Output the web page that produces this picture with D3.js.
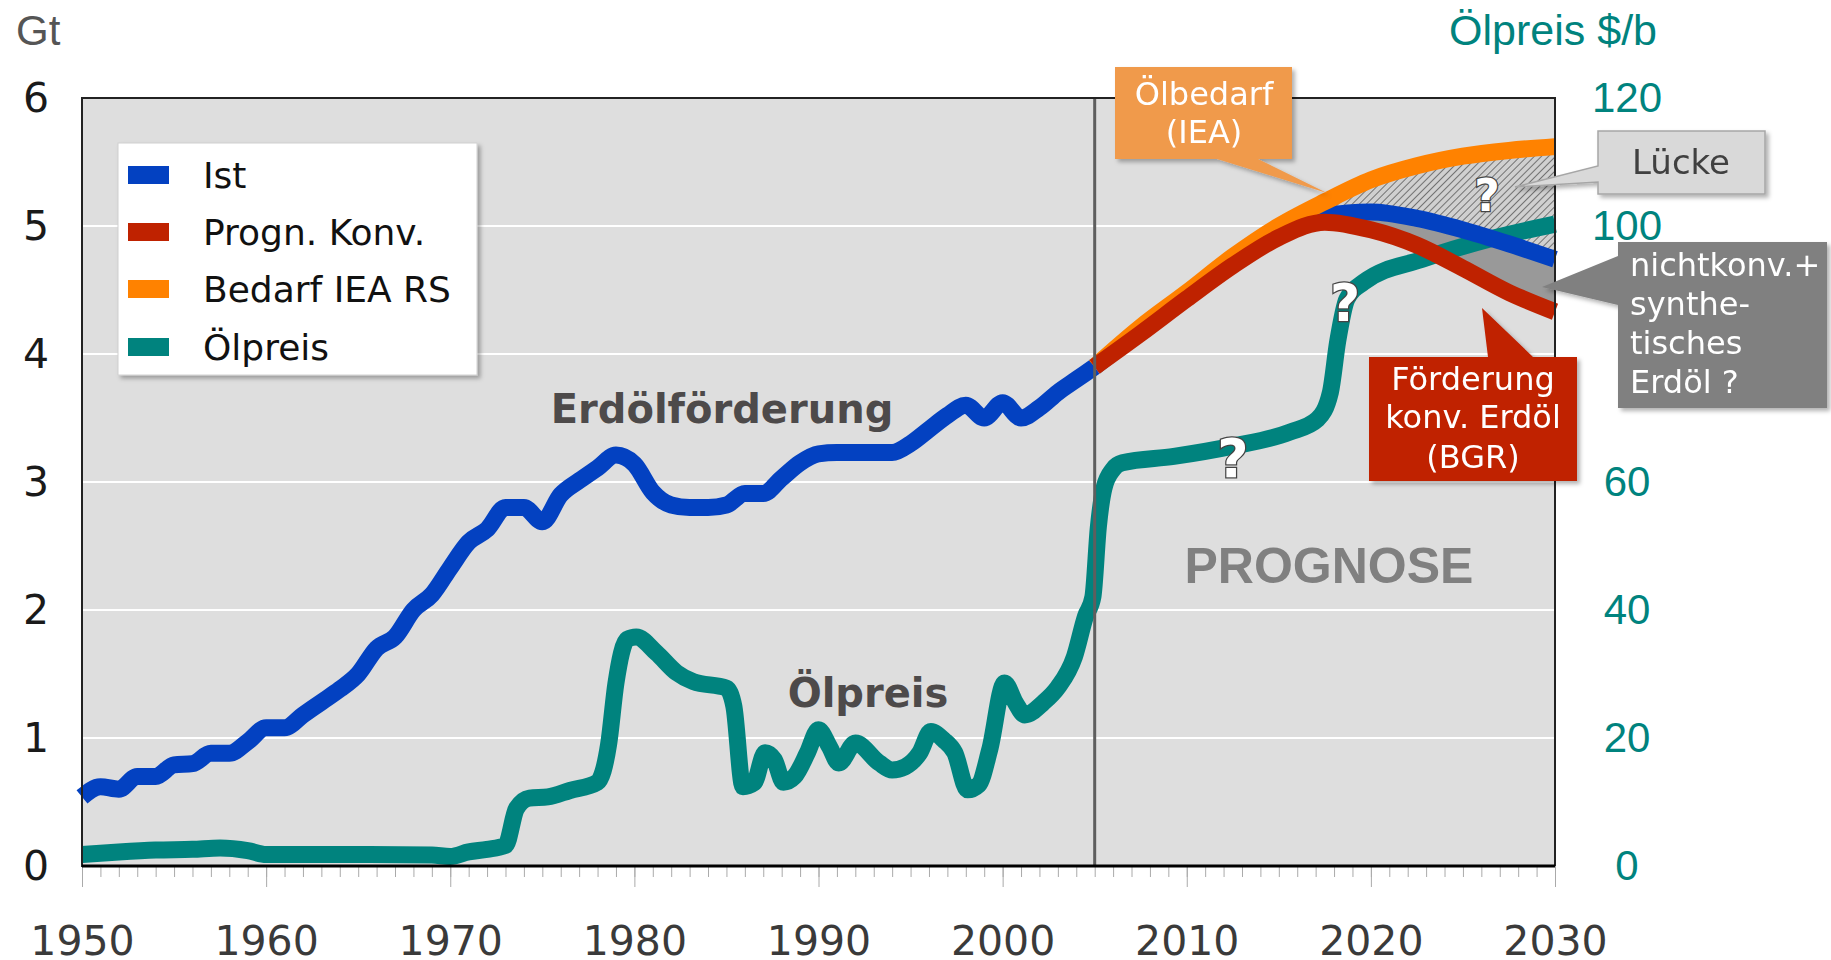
<!DOCTYPE html>
<html>
<head>
<meta charset="utf-8">
<script src="https://d3js.org/d3.v7.min.js"></script>
<style>
body{margin:0;background:#fff;}
svg{display:block;}
</style>
</head>
<body>
<div id="canvas"></div>
<script>
var width = 1831;
var height = 960;

// Erdölförderung Ist (Gt/Jahr)
var istYears = [1950,1951,1952,1953,1954,1955,1956,1957,1958,1959,1960,1961,1962,1963,1964,1965,1966,1967,1968,1969,
	1970,1971,1972,1973,1974,1975,1976,1977,1978,1979,1980,1981,1982,1983,1984,1985,1986,1987,1988,1989,
	1990,1991,1992,1993,1994,1995,1996,1997,1998,1999,2000,2001,2002,2003,2004,2005];
var istValues = [0.54,0.62,0.60,0.70,0.70,0.79,0.80,0.88,0.88,0.97,1.08,1.08,1.18,1.28,1.38,1.50,1.70,1.79,2.00,2.12,
	2.33,2.53,2.63,2.80,2.80,2.69,2.90,3.01,3.11,3.21,3.14,2.92,2.82,2.80,2.80,2.82,2.91,2.91,3.03,3.15,
	3.22,3.23,3.23,3.23,3.23,3.30,3.41,3.52,3.60,3.50,3.62,3.50,3.58,3.70,3.80,3.90];

// Prognosen ab 2005 (Gt/Jahr)
var projYears = [2005,2007.5,2010,2012.5,2015,2017.5,2020,2022.5,2025,2027.5,2030];
var bedarfValues = [3.90,4.21,4.48,4.76,5.00,5.19,5.36,5.47,5.545,5.59,5.62];
var istProgValues = [3.90,4.18,4.45,4.72,4.94,5.08,5.11,5.06,4.97,4.86,4.74];
var konvValues = [3.90,4.16,4.43,4.69,4.91,5.03,4.97,4.85,4.67,4.48,4.33];

// Ölpreis ($/b)
var priceYears = [1950,1952,1954,1956,1957.5,1959,1960,1965,1969,1970,1971,1972,1973,1973.6,1974.3,1975.3,1976.5,1978,1978.6,1979,
	1979.6,1980.1,1981.2,1982.3,1983.2,1985,1985.4,1985.9,1986.5,1987.1,1987.6,1988.1,1988.7,1989.4,1990,1990.6,1991.1,1992,1993.3,1994,
	1994.7,1995.5,1996.1,1996.8,1997.4,1998.1,1998.7,1999.3,2000.1,2000.7,2001.2,2002.2,2003,2003.9,2004.5,2004.9,2005.2,2005.5,2006,2006.5,
	2009.3,2012.5,2015.6,2017.1,2017.8,2018.2,2018.7,2019.6,2022.8,2026.5,2030];
var priceValues = [1.8,2.2,2.5,2.6,2.8,2.4,1.8,1.8,1.7,1.5,2.2,2.6,3.2,9.0,10.6,10.8,11.8,13.1,19,28.6,
	35.4,35.8,33.3,30.2,28.8,27.8,25,12.4,13,17.7,16.6,13.1,14,17.7,21.3,18.6,16.1,19.2,16.1,15,
	15.5,17.7,21,19.7,17.7,11.9,12.7,18.2,28.6,25.5,23.6,25.5,27.9,32.7,39,42,53,59,62,63,
	64,65.6,67.8,69.8,74,82,88.6,91.2,94.8,98,100.3];

// Achsen (die 80 ist im Original von den Kästen verdeckt)
var xTicks = [1950,1960,1970,1980,1990,2000,2010,2020,2030];
var leftTicks = [0,1,2,3,4,5,6];
var rightTicks = [0,20,40,60,100,120];

var legendLabels = ["Ist","Progn. Konv.","Bedarf IEA RS","Ölpreis"];
var legendColors = ["#0341c1","#bf2200","#ff8200","#00837e"];

var col_blue = "#0341c1";
var col_red = "#bf2200";
var col_orange = "#ff8200";
var col_teal = "#00837e";

var draw = function(){
	var pL = 82, pR = 1555, pT = 98, pB = 866;

	var x = d3.scaleLinear().domain([1950,2030]).range([pL,pR]);
	var yL = d3.scaleLinear().domain([0,6]).range([pB,pT]);
	var yR = d3.scaleLinear().domain([0,120]).range([pB,pT]);

	var svg = d3.select("#canvas").append("svg")
		.attr("width",width)
		.attr("height",height)
		.style("font-family","'DejaVu Sans', Verdana, sans-serif");

	var defs = svg.append("defs");
	var sh = defs.append("filter").attr("id","shadow")
		.attr("x","-10%").attr("y","-10%").attr("width","130%").attr("height","130%");
	sh.append("feDropShadow").attr("dx",3).attr("dy",3).attr("stdDeviation",2)
		.attr("flood-color","#000").attr("flood-opacity",0.3);

	var pat = defs.append("pattern").attr("id","hatch")
		.attr("patternUnits","userSpaceOnUse")
		.attr("width",5).attr("height",5)
		.attr("patternTransform","rotate(45)");
	pat.append("rect").attr("width",5).attr("height",5).attr("fill","#d0d0d0");
	pat.append("line").attr("x1",0).attr("y1",0).attr("x2",0).attr("y2",5)
		.attr("stroke","#5a5a5a").attr("stroke-width",1.6);

	defs.append("clipPath").attr("id","clipLuecke").append("rect")
		.attr("x",x(2015)).attr("y",pT).attr("width",pR-x(2015)).attr("height",pB-pT);
	defs.append("clipPath").attr("id","clipGrau").append("rect")
		.attr("x",x(2018)).attr("y",pT).attr("width",pR-x(2018)).attr("height",pB-pT);

	// Plotfläche
	svg.append("rect")
		.attr("x",pL).attr("y",pT)
		.attr("width",pR-pL).attr("height",pB-pT)
		.attr("fill","#dedede");

	// Gitterlinien
	svg.append("g").selectAll("line")
		.data([1,2,3,4,5])
		.enter().append("line")
		.attr("x1",pL).attr("x2",pR)
		.attr("y1",function(d){return yL(d);})
		.attr("y2",function(d){return yL(d);})
		.attr("stroke","#fff").attr("stroke-width",2);

	// Flächen Lücke / nichtkonventionell
	var proj = projYears.map(function(y,i){
		return {year:y, bedarf:bedarfValues[i], ist:istProgValues[i], konv:konvValues[i]};
	});

	var areaLuecke = d3.area()
		.curve(d3.curveMonotoneX)
		.x(function(d){return x(d.year);})
		.y0(function(d){return yL(d.ist);})
		.y1(function(d){return yL(d.bedarf);});
	svg.append("path").datum(proj)
		.attr("d",areaLuecke)
		.attr("fill","url(#hatch)")
		.attr("clip-path","url(#clipLuecke)");

	var areaGrau = d3.area()
		.curve(d3.curveMonotoneX)
		.x(function(d){return x(d.year);})
		.y0(function(d){return yL(d.konv);})
		.y1(function(d){return yL(d.ist);});
	svg.append("path").datum(proj)
		.attr("d",areaGrau)
		.attr("fill","#999")
		.attr("clip-path","url(#clipGrau)");

	// Beschriftungen im Diagramm
	svg.append("text")
		.attr("x",1329).attr("y",583)
		.attr("text-anchor","middle")
		.style("font-family","'Liberation Sans', Arial, sans-serif")
		.style("font-weight","bold")
		.style("font-size","50px")
		.attr("fill","#808080")
		.text("PROGNOSE");

	svg.append("text")
		.attr("x",722).attr("y",423)
		.attr("text-anchor","middle")
		.style("font-weight","bold")
		.style("font-size","40px")
		.attr("fill","#4d4a4a")
		.text("Erdölförderung");

	svg.append("text")
		.attr("x",868).attr("y",707)
		.attr("text-anchor","middle")
		.style("font-weight","bold")
		.style("font-size","40px")
		.attr("fill","#4d4a4a")
		.text("Ölpreis");

	// Linien
	var lineL = function(key){
		return d3.line()
			.curve(d3.curveMonotoneX)
			.x(function(d){return x(d.year);})
			.y(function(d){return yL(d[key]);});
	};

	var priceData = priceYears.map(function(y,i){return {year:y, p:priceValues[i]};});
	var priceLine = d3.line()
		.curve(d3.curveMonotoneX)
		.x(function(d){return x(d.year);})
		.y(function(d){return yR(d.p);});

	var lw = 17;
	svg.append("path").datum(priceData)
		.attr("d",priceLine)
		.attr("fill","none").attr("stroke",col_teal)
		.attr("stroke-width",lw).attr("stroke-linejoin","round");

	var istData = istYears.map(function(y,i){return {year:y, v:istValues[i]};});
	svg.append("path").datum(istData)
		.attr("d",lineL("v"))
		.attr("fill","none").attr("stroke",col_blue)
		.attr("stroke-width",lw).attr("stroke-linejoin","round");

	svg.append("path").datum(proj)
		.attr("d",lineL("ist"))
		.attr("fill","none").attr("stroke",col_blue)
		.attr("stroke-width",lw);
	svg.append("path").datum(proj)
		.attr("d",lineL("bedarf"))
		.attr("fill","none").attr("stroke",col_orange)
		.attr("stroke-width",lw);
	svg.append("path").datum(proj)
		.attr("d",lineL("konv"))
		.attr("fill","none").attr("stroke",col_red)
		.attr("stroke-width",lw);

	// Trennlinie 2005
	svg.append("line")
		.attr("x1",x(2005)).attr("x2",x(2005))
		.attr("y1",pT).attr("y2",pB)
		.attr("stroke","#5e5e5e").attr("stroke-width",3);

	// Rahmen
	svg.append("rect")
		.attr("x",pL).attr("y",pT)
		.attr("width",pR-pL).attr("height",pB-pT)
		.attr("fill","none").attr("stroke","#222").attr("stroke-width",2);

	// x-Achse
	var xMinor = d3.axisBottom(x).tickValues(d3.range(1950,2031)).tickSize(11).tickFormat("");
	var gxm = svg.append("g").attr("transform","translate(0,"+pB+")").call(xMinor);
	gxm.selectAll("line").attr("stroke","#aaa");
	gxm.select(".domain").remove();

	var xMajor = d3.axisBottom(x).tickValues(xTicks).tickSize(21).tickPadding(39).tickFormat(d3.format("d"));
	var gx = svg.append("g").attr("transform","translate(0,"+pB+")").call(xMajor);
	gx.selectAll("line").attr("stroke","#aaa");
	gx.select(".domain").remove();
	gx.selectAll("text")
		.style("font-family","'DejaVu Sans', Verdana, sans-serif")
		.style("font-size","41px")
		.attr("fill","#3a3a3a");

	svg.append("line")
		.attr("x1",pL).attr("x2",pR)
		.attr("y1",pB).attr("y2",pB)
		.attr("stroke","#000").attr("stroke-width",3);

	// y-Achse links
	var yAxisL = d3.axisLeft(yL).tickValues(leftTicks).tickSize(0).tickPadding(33).tickFormat(d3.format("d"));
	var gyl = svg.append("g").attr("transform","translate("+pL+",0)").call(yAxisL);
	gyl.select(".domain").remove();
	gyl.selectAll("text")
		.style("font-family","'DejaVu Sans', Verdana, sans-serif")
		.style("font-size","41px")
		.attr("fill","#1a1a1a");

	// y-Achse rechts
	var yAxisR = d3.axisRight(yR).tickValues(rightTicks).tickSize(0).tickFormat(d3.format("d"));
	var gyr = svg.append("g").attr("transform","translate("+pR+",0)").call(yAxisR);
	gyr.select(".domain").remove();
	gyr.selectAll("text")
		.attr("x",72)
		.attr("text-anchor","middle")
		.style("font-family","'Liberation Sans', Arial, sans-serif")
		.style("font-size","42px")
		.attr("fill",col_teal);

	svg.append("text")
		.attr("x",16).attr("y",45)
		.style("font-family","'Liberation Sans', Arial, sans-serif")
		.style("font-size","42px")
		.attr("fill","#555")
		.text("Gt");

	svg.append("text")
		.attr("x",1657).attr("y",45)
		.attr("text-anchor","end")
		.style("font-family","'Liberation Sans', Arial, sans-serif")
		.style("font-size","43px")
		.attr("fill",col_teal)
		.text("Ölpreis $/b");

	// Legende
	var lg = svg.append("g");
	lg.append("rect")
		.attr("x",118).attr("y",143).attr("width",359).attr("height",232)
		.attr("fill","#fff").attr("stroke","#d0d0d0").attr("stroke-width",1)
		.attr("filter","url(#shadow)");
	var rowY = [175,232,289,347];
	legendLabels.forEach(function(l,i){
		lg.append("rect")
			.attr("x",128).attr("y",rowY[i]-9)
			.attr("width",41).attr("height",18)
			.attr("fill",legendColors[i]);
		lg.append("text")
			.attr("x",203).attr("y",rowY[i]+13)
			.style("font-size","36px")
			.attr("fill","#111")
			.text(l);
	});

	// Callouts
	var callout = function(d,fill,stroke){
		var g = svg.append("g").attr("filter","url(#shadow)");
		var p = g.append("path").attr("d",d).attr("fill",fill);
		if(stroke){
			p.attr("stroke",stroke).attr("stroke-width",1.5);
		}
		return g;
	};

	var addLines = function(g,lines,xx,ys,size,color,anchor){
		lines.forEach(function(t,i){
			g.append("text")
				.attr("x",xx).attr("y",ys[i])
				.attr("text-anchor",anchor)
				.style("font-size",size+"px")
				.attr("fill",color)
				.text(t);
		});
	};

	var c1 = callout("M1115,67 H1292 V159 H1258 L1327,193 L1217,159 H1115 Z","#f09a4c");
	addLines(c1,["Ölbedarf","(IEA)"],1204,[105,143],32,"#fff","middle");

	var c2 = callout("M1598,131 H1765 V194 H1598 V182 L1515,187 L1598,166 Z","#d9d9d9","#a6a6a6");
	addLines(c2,["Lücke"],1681,[174],34,"#404040","middle");

	var c3 = callout("M1618,242 H1827 V408 H1618 V305 L1542,287 L1618,256 Z","#808080");
	addLines(c3,["nichtkonv.+","synthe-","tisches","Erdöl ?"],1630,[276,315,354,393],32,"#fff","start");

	var c4 = callout("M1369,357 H1488 L1482,308 L1533,357 H1577 V481 H1369 Z","#c02000");
	addLines(c4,["Förderung","konv. Erdöl","(BGR)"],1473,[390,428,468],32,"#fff","middle");

	// Fragezeichen
	var qm = [[1487,211,44],[1345,321,52],[1233,477,54]];
	qm.forEach(function(q){
		svg.append("text")
			.attr("x",q[0]).attr("y",q[1])
			.attr("text-anchor","middle")
			.style("font-weight","bold")
			.style("font-size",q[2]+"px")
			.attr("fill","#fff")
			.attr("stroke","#444")
			.attr("stroke-width",2.5)
			.attr("paint-order","stroke")
			.text("?");
	});
};

draw();
</script>
</body>
</html>
